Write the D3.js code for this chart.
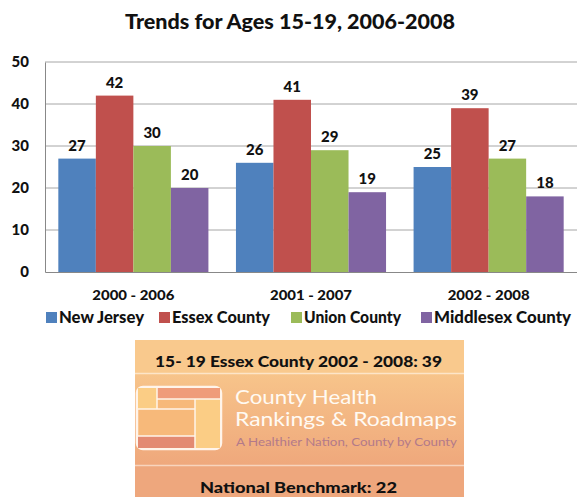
<!DOCTYPE html>
<meta charset="utf-8">
<head>
<script src="https://d3js.org/d3.v7.min.js"></script>
<style>
  body { margin: 0; background: #fff; font-family: Lato, "Open Sans", sans-serif; }
  text { font-family: Lato, "Open Sans", sans-serif; }
</style>
</head>
<body>
<script>

// chart data
var periods = ["2000 - 2006", "2001 - 2007", "2002 - 2008"];
var seriesNames = ["New Jersey", "Essex County", "Union County", "Middlesex County"];
var newJersey = [27, 26, 25];
var essexCounty = [42, 41, 39];
var unionCounty = [30, 29, 27];
var middlesexCounty = [20, 19, 18];
var yTicks = [0, 10, 20, 30, 40, 50];
var colors = ["#4f81bd", "#c0504d", "#9bbb59", "#8064a2"];

var allSeries = [newJersey, essexCounty, unionCounty, middlesexCounty];

var W = 577, H = 497;
var plot = {left: 45, right: 577, top: 62, bottom: 272};

var svg = d3.select("body").append("svg")
    .attr("width", W)
    .attr("height", H);

// stretch a text to a given width (the reference type is wide)
function fit(sel, w) {
  sel.attr("textLength", w).attr("lengthAdjust", "spacingAndGlyphs");
  return sel;
}

// title
fit(svg.append("text")
    .attr("x", 290).attr("y", 29)
    .attr("text-anchor", "middle")
    .style("font-size", "20px").style("font-weight", "900")
    .attr("fill", "#111")
    .text("Trends for Ages 15-19, 2006-2008"), 330);

var x0 = d3.scaleBand().domain(periods)
    .range([plot.left, plot.right])
    .paddingInner(0.155).paddingOuter(0.075);
var x1 = d3.scaleBand().domain(seriesNames).range([0, x0.bandwidth()]);
var y = d3.scaleLinear().domain([0, 50]).range([plot.bottom, plot.top]);

// gridlines
svg.append("g").selectAll("line").data(yTicks.filter(function(d) { return d > 0; }))
  .enter().append("line")
    .attr("x1", plot.left).attr("x2", plot.right)
    .attr("y1", function(d) { return y(d); }).attr("y2", function(d) { return y(d); })
    .attr("stroke", "#a6a6a6").attr("stroke-width", 1);

// y axis
var yAxis = svg.append("g")
    .attr("transform", "translate(" + plot.left + ",0)")
    .call(d3.axisLeft(y).tickValues(yTicks).tickSize(0).tickPadding(16));
yAxis.select(".domain").attr("stroke", "#888");
yAxis.selectAll("text").style("font-size", "15px").style("font-weight", "900")
    .attr("fill", "#111").attr("font-family", null);

// bars
var groups = svg.append("g").selectAll("g").data(periods).enter().append("g")
    .attr("transform", function(d) { return "translate(" + x0(d) + ",0)"; });

groups.each(function(p, i) {
  var g = d3.select(this);
  seriesNames.forEach(function(s, j) {
    var v = allSeries[j][i];
    g.append("rect")
        .attr("x", x1(s)).attr("width", x1.bandwidth())
        .attr("y", y(v)).attr("height", y(0) - y(v))
        .attr("fill", colors[j]);
    g.append("text")
        .attr("x", x1(s) + x1.bandwidth() / 2)
        .attr("y", y(v) - 8)
        .attr("text-anchor", "middle")
        .style("font-size", "15px").style("font-weight", "900")
        .attr("fill", "#111")
        .text(v);
  });
});

// x axis
var xAxis = svg.append("g")
    .attr("transform", "translate(0," + plot.bottom + ")")
    .call(d3.axisBottom(x0).tickSize(0).tickPadding(18));
xAxis.select(".domain").attr("stroke", "#888");
xAxis.selectAll("text").style("font-size", "14px").style("font-weight", "900")
    .attr("fill", "#111").attr("font-family", null)
    .attr("textLength", 82).attr("lengthAdjust", "spacingAndGlyphs");

// legend
var legendX = [46, 159, 291, 421];
var legendW = [85, 98, 97, 137];
var legend = svg.append("g").selectAll("g").data(seriesNames).enter().append("g")
    .attr("transform", function(d, i) { return "translate(" + legendX[i] + ",312)"; });
legend.append("rect").attr("width", 11).attr("height", 11)
    .attr("fill", function(d, i) { return colors[i]; });
legend.append("text").attr("x", 13).attr("y", 11)
    .style("font-size", "16px").style("font-weight", "900")
    .attr("fill", "#111")
    .attr("textLength", function(d, i) { return legendW[i]; })
    .attr("lengthAdjust", "spacingAndGlyphs")
    .text(function(d) { return d; });

// info box
var bx = 135, bw = 329;
var defs = svg.append("defs");
var grad = defs.append("linearGradient").attr("id", "mid")
    .attr("x1", 0).attr("y1", 0).attr("x2", 0).attr("y2", 1);
grad.append("stop").attr("offset", "0%").attr("stop-color", "#f7c48a");
grad.append("stop").attr("offset", "100%").attr("stop-color", "#efa87c");

svg.append("rect").attr("x", bx).attr("y", 340).attr("width", bw).attr("height", 33)
    .attr("fill", "#f9c98d");
svg.append("rect").attr("x", bx).attr("y", 374).attr("width", bw).attr("height", 91)
    .attr("fill", "url(#mid)");
svg.append("rect").attr("x", bx).attr("y", 466).attr("width", bw).attr("height", 31)
    .attr("fill", "#eea77d");
svg.append("line").attr("x1", bx).attr("x2", bx + bw).attr("y1", 373.5).attr("y2", 373.5)
    .attr("stroke", "#fde5c8").attr("stroke-width", 1.5);
svg.append("line").attr("x1", bx).attr("x2", bx + bw).attr("y1", 465.5).attr("y2", 465.5)
    .attr("stroke", "#f8d4bd").attr("stroke-width", 1.5);

fit(svg.append("text").attr("x", 155).attr("y", 367)
    .style("font-size", "15px").style("font-weight", "900").attr("fill", "#111")
    .text("15- 19 Essex County 2002 - 2008:  39"), 287);
fit(svg.append("text").attr("x", 200).attr("y", 493)
    .style("font-size", "15px").style("font-weight", "900").attr("fill", "#111")
    .text("National Benchmark: 22"), 197);

// logo
var logo = svg.append("g");
logo.append("rect").attr("x", 137).attr("y", 387).attr("width", 84).attr("height", 62)
    .attr("rx", 6).attr("fill", "#f7b97a").attr("stroke", "#fff4ea").attr("stroke-width", 2.5);
logo.append("rect").attr("x", 138).attr("y", 388).attr("width", 19).attr("height", 21)
    .attr("fill", "#fbcd85");
logo.append("rect").attr("x", 157).attr("y", 388).attr("width", 63).attr("height", 11)
    .attr("fill", "#ef9c7a");
logo.append("rect").attr("x", 195).attr("y", 399).attr("width", 25).attr("height", 49)
    .attr("fill", "#fbcd85");
logo.append("rect").attr("x", 138).attr("y", 436).attr("width", 57).attr("height", 12)
    .attr("fill", "#e38a72");
logo.selectAll("line").data([[157, 388, 157, 409], [138, 409, 195, 409], [157, 399, 220, 399],
    [195, 399, 195, 448], [138, 436, 195, 436]]).enter().append("line")
    .attr("x1", function(d) { return d[0]; }).attr("y1", function(d) { return d[1]; })
    .attr("x2", function(d) { return d[2]; }).attr("y2", function(d) { return d[3]; })
    .attr("stroke", "#fff4ea").attr("stroke-width", 1.5);

fit(svg.append("text").attr("x", 235).attr("y", 404)
    .style("font-size", "19px").attr("fill", "#fffaf3").text("County Health"), 142);
fit(svg.append("text").attr("x", 235).attr("y", 426)
    .style("font-size", "19px").attr("fill", "#fffaf3").text("Rankings & Roadmaps"), 222);
fit(svg.append("text").attr("x", 236).attr("y", 446)
    .style("font-size", "11px").attr("fill", "#b37a8a").text("A Healthier Nation, County by County"), 221);

</script>
</body>
